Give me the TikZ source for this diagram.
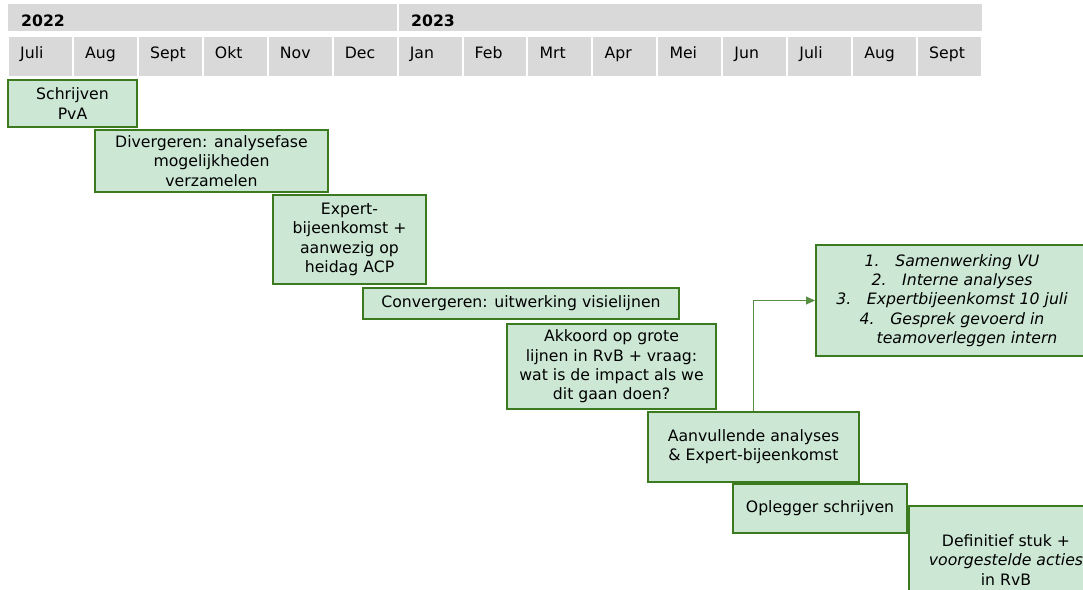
\documentclass[tikz,border=0pt]{standalone}
\usepackage{fontspec}
\setmainfont{DejaVu Sans}
\usepackage{tikz}
\usetikzlibrary{arrows.meta,calc}
\definecolor{hdrgrey}{HTML}{D9D9D9}
\definecolor{taskfill}{HTML}{CCE8D5}
\definecolor{taskline}{HTML}{3B7A1F}
\newcommand{\planfont}{\fontsize{15.7}{19.3}\selectfont}
\tikzset{
  task/.style={draw=taskline,fill=taskfill,line width=2pt,inner sep=0pt,align=center,font=\planfont},
  monthtxt/.style={anchor=base west,inner sep=0pt,font=\planfont},
  yeartxt/.style={anchor=base west,inner sep=0pt,font=\planfont\bfseries}
}
% #1 name, #2/#3 top left, #4/#5 bottom right, #6 text
\newcommand{\taskbox}[6]{%
  \node[task,minimum width={(#4-#2)*1pt},minimum height={(#5-#3)*1pt}] (#1) at ({(#2+#4)/2},{(#3+#5)/2}) {#6};}

\begin{document}
\begin{tikzpicture}[x=1pt,y=-1pt,>={Triangle[length=9pt,width=8pt]}]
\useasboundingbox (0,0) rectangle (1083,589);
\clip (0,0) rectangle (1083,589);
% header
\fill[hdrgrey] (8,4) rectangle (396.6,31);
\fill[hdrgrey] (398.6,4) rectangle (982,31);
\node[yeartxt] (y22) at (21,27) {2022};
\node[yeartxt] (y23) at (411,27) {2023};
\foreach \mon [count=\i from 0] in {Juli,Aug,Sept,Okt,Nov,Dec,Jan,Feb,Mrt,Apr,Mei,Jun,Juli,Aug,Sept}{
  \pgfmathsetmacro{\xl}{8+64.93*\i}
  \fill[hdrgrey] (\xl+1,37) rectangle (\xl+63.93,76);
  \node[monthtxt] (mon\i) at (\xl+12,58) {\mon};
}
% activities
\taskbox{pva}{8}{80}{137}{127}{Schrijven\\PvA}
\taskbox{diverg}{95}{130}{328}{192}{Divergeren: analysefase\\mogelijkheden\\verzamelen}
\taskbox{expert}{273}{195}{426}{284}{Expert-\\bijeenkomst +\\aanwezig op\\heidag ACP}
\taskbox{converg}{363}{288}{679}{319}{Convergeren: uitwerking visielijnen}
\taskbox{akkoord}{507}{324}{716}{409}{Akkoord op grote\\lijnen in RvB + vraag:\\wat is de impact als we\\dit gaan doen?}
\taskbox{aanv}{648}{412}{859}{482}{Aanvullende analyses\\\& Expert-bijeenkomst}
\taskbox{lijst}{816}{245}{1088}{356}{\itshape 1.\quad Samenwerking VU\\\itshape 2.\quad Interne analyses\\\itshape 3.\quad Expertbijeenkomst 10 juli\\\itshape 4.\quad Gesprek gevoerd in\\\itshape\hspace*{30pt}teamoverleggen intern}
\taskbox{oplegger}{733}{484}{907}{533}{Oplegger schrijven}
\taskbox{definitief}{909}{506}{1103}{614}{Definitief stuk +\\\textit{voorgestelde acties}\\in RvB}
\draw[->,taskline!85,line width=1pt] (aanv.north) |- (lijst.west);
\end{tikzpicture}
\end{document}
